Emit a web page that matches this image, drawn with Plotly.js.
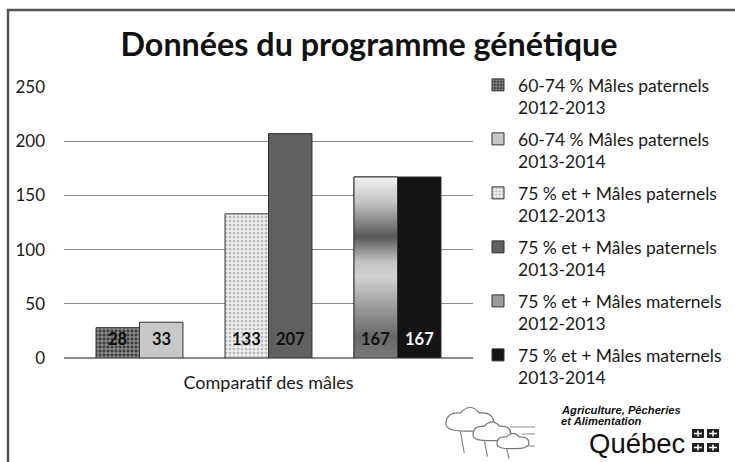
<!DOCTYPE html>
<html>
<head>
<meta charset="utf-8">
<script src="https://cdn.plot.ly/plotly-3.0.1.min.js"></script>
<style>html,body{margin:0;padding:0;background:#fff;}#chart{width:735px;height:462px;}</style>
</head>
<body>
<div id="chart"></div>
<script>
// ---- data ----
const seriesNames = [
  "60-74 % Mâles paternels<br>2012-2013",
  "60-74 % Mâles paternels<br>2013-2014",
  "75 % et + Mâles paternels<br>2012-2013",
  "75 % et + Mâles paternels<br>2013-2014",
  "75 % et + Mâles maternels<br>2012-2013",
  "75 % et + Mâles maternels<br>2013-2014"
];
const values = [28, 33, 133, 207, 167, 167];
const groupIndex = [0, 0, 1, 1, 2, 2];
const sideInGroup = [-1, 1, -1, 1, -1, 1];
const categoryLabel = "Comparatif des mâles";
const yTicks = [0, 50, 100, 150, 200, 250];

// ---- styling ----
const FONT = "Lato, 'Open Sans', sans-serif";
const W = 735, H = 462;
const M = {l: 64, r: 262, t: 87, b: 104};
const barW = 0.337;
const outline = {color: '#333333', width: 1};
const styles = [
  {color: '#4a4a4a', pattern: {shape: '+', fgcolor: '#b5b5b5', bgcolor: '#3e3e3e', size: 4, solidity: 0.35}},
  {color: '#c8c8c8'},
  {color: '#f0f0f0', pattern: {shape: '.', fgcolor: '#bdbdbd', bgcolor: '#f2f2f2', size: 4, solidity: 0.45}},
  {color: '#606060'},
  {color: '#9a9a9a'},
  {color: '#141414'}
];
const labelColors = ['#111', '#111', '#111', '#111', '#111', '#fff'];

const xPos = values.map((v, i) => groupIndex[i] + sideInGroup[i] * barW / 2);

const traces = values.map((v, i) => ({
  type: 'bar',
  name: seriesNames[i],
  x: [xPos[i]],
  y: [v],
  width: [barW],
  marker: Object.assign({line: outline}, styles[i]),
  legendgroup: 'g' + i,
  hoverinfo: 'name+y'
}));

// gradient overlay for the 5th series
const gi = 4;
const x0 = xPos[gi] - barW / 2, x1 = xPos[gi] + barW / 2;
traces.push({
  type: 'scatter', mode: 'lines',
  x: [x0, x0, x1, x1, x0], y: [0, values[gi], values[gi], 0, 0],
  fill: 'toself',
  fillgradient: {type: 'vertical', colorscale: [
    [0, '#7a7a7a'], [0.12, '#686868'], [0.45, '#d2d2d2'], [0.53, '#c4c4c4'],
    [0.67, '#575757'], [0.86, '#c4c4c4'], [1, '#f2f2f2']]},
  line: outline, showlegend: false, hoverinfo: 'skip'
});

// pixel -> paper helpers
const pw = W - M.l - M.r, ph = H - M.t - M.b;
const px = x => (x - M.l) / pw;
const py = y => (H - M.b - y) / ph;

const annotations = values.map((v, i) => ({
  x: xPos[i], y: 0, xref: 'x', yref: 'y', yanchor: 'bottom', yshift: 7,
  text: '<b>' + v + '</b>', showarrow: false,
  font: {family: FONT, size: 16.5, color: labelColors[i]}
}));

// logo text
const logoFont = "'Liberation Sans', Arial, sans-serif";
annotations.push(
  {xref: 'paper', yref: 'paper', x: px(560), y: py(410), xanchor: 'left', yanchor: 'middle', showarrow: false, borderpad: 0,
   text: '<b><i>Agriculture, Pêcheries</i></b>', font: {family: logoFont, size: 11.2, color: '#111'}},
  {xref: 'paper', yref: 'paper', x: px(560), y: py(421), xanchor: 'left', yanchor: 'middle', showarrow: false, borderpad: 0,
   text: '<b><i>et Alimentation</i></b>', font: {family: logoFont, size: 11.2, color: '#111'}},
  {xref: 'paper', yref: 'paper', x: px(588), y: py(443), xanchor: 'left', yanchor: 'middle', showarrow: false, borderpad: 0,
   text: 'Québec', font: {family: logoFont, size: 27.5, color: '#111'}}
);

const shapes = [];
// outer frame
shapes.push({type: 'path', xref: 'paper', yref: 'paper',
  path: `M ${px(8)} ${py(470)} L ${px(8)} ${py(10)} L ${px(740)} ${py(10)}`,
  line: {color: '#555', width: 2.5}});
// flag squares
[[692, 429], [707, 429], [692, 443], [707, 443]].forEach(([x, y]) => {
  shapes.push({type: 'rect', xref: 'paper', yref: 'paper', x0: px(x), x1: px(x + 12), y0: py(y), y1: py(y + 9),
    fillcolor: '#222', line: {width: 0}});
  shapes.push({type: 'path', xref: 'paper', yref: 'paper',
    path: `M ${px(x + 6)} ${py(y + 1.5)} L ${px(x + 6)} ${py(y + 7.5)} M ${px(x + 2)} ${py(y + 4.5)} L ${px(x + 10)} ${py(y + 4.5)}`,
    line: {color: '#fff', width: 1.5}});
});
// tree drawing (rough)
function cloud(cx, cy, w, h) {
  const l = cx - w / 2, r = cx + w / 2;
  return `M ${px(l)} ${py(cy)} Q ${px(l)} ${py(cy - h * 0.6)} ${px(l + w * 0.3)} ${py(cy - h * 0.55)} ` +
    `Q ${px(cx)} ${py(cy - h * 1.1)} ${px(r - w * 0.3)} ${py(cy - h * 0.55)} ` +
    `Q ${px(r)} ${py(cy - h * 0.6)} ${px(r)} ${py(cy)} Q ${px(r - 2)} ${py(cy + h * 0.4)} ${px(cx)} ${py(cy + h * 0.35)} ` +
    `Q ${px(l)} ${py(cy + h * 0.4)} ${px(l)} ${py(cy)} Z`;
}
[[470, 424, 48, 20], [492, 435, 38, 16], [513, 444, 32, 13]].forEach(([cx, cy, w, h], k) => {
  shapes.push({type: 'path', xref: 'paper', yref: 'paper', path: cloud(cx, cy, w, h),
    line: {color: '#777', width: 1.2}, fillcolor: 'rgba(255,255,255,0.9)'});
  shapes.push({type: 'path', xref: 'paper', yref: 'paper',
    path: `M ${px(cx - w * 0.2)} ${py(cy + h * 0.35)} L ${px(cx - w * 0.12)} ${py(cy + h * 0.35 + 22 - k * 6)}`,
    line: {color: '#888', width: 1.2}});
});
[[510, 535, 427], [522, 535, 434], [527, 535, 446]].forEach(([a, b, y]) => {
  shapes.push({type: 'line', xref: 'paper', yref: 'paper', x0: px(a), x1: px(b), y0: py(y), y1: py(y),
    line: {color: '#888', width: 1}});
});

const layout = {
  width: W, height: H,
  margin: M,
  paper_bgcolor: '#fff', plot_bgcolor: '#fff',
  font: {family: FONT, size: 17, color: '#1a1a1a'},
  title: {text: '<b>Données du programme génétique</b>', xref: 'container', yref: 'container',
    x: 0.502, xanchor: 'center', y: 1 - 45 / H, yanchor: 'middle',
    font: {family: FONT, size: 32.3, color: '#111'}},
  barmode: 'overlay',
  showlegend: true,
  legend: {xref: 'container', yref: 'container', x: 478 / W, xanchor: 'left', y: 1 - 67 / H, yanchor: 'top',
    valign: 'top', traceorder: 'grouped', tracegroupgap: 5.5, itemwidth: 30, maxheight: 440,
    font: {family: FONT, size: 17.5, color: '#1a1a1a'}, bgcolor: 'rgba(0,0,0,0)'},
  xaxis: {range: [-0.585, 2.585], tickmode: 'array', tickvals: [1], ticktext: [categoryLabel],
    ticks: '', showgrid: false, zeroline: false, showline: false, ticklabelstandoff: 12, fixedrange: true,
    tickfont: {family: FONT, size: 18, color: '#1a1a1a'}},
  yaxis: {range: [0, 250], tickmode: 'array', tickvals: yTicks, showgrid: true, gridcolor: '#8c8c8c', gridwidth: 1.3,
    zeroline: true, zerolinecolor: '#8c8c8c', zerolinewidth: 1.3, showline: false, ticks: '', ticklabelstandoff: 18,
    fixedrange: true, tickfont: {family: FONT, size: 17, color: '#1a1a1a'}},
  annotations: annotations,
  shapes: shapes
};

Plotly.newPlot('chart', traces, layout, {displayModeBar: false, staticPlot: true});
</script>
</body>
</html>
